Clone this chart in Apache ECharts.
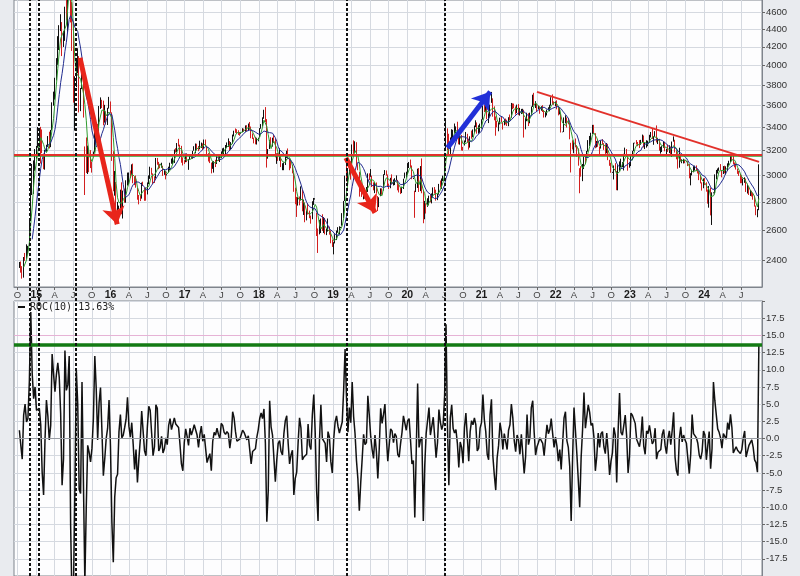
<!DOCTYPE html>
<html><head><meta charset="utf-8">
<script src="https://cdn.jsdelivr.net/npm/echarts@6/dist/echarts.min.js"></script>
<style>html,body{margin:0;padding:0;background:#e9ebef}#c{width:800px;height:576px}</style>
</head><body><div id="c"></div>
<script>
// ---- weekly data (Friday of each week), Shanghai-style index ----
const firstWeek = '2014-10-10';
const weeklyClose = [
2374,2341,2302,2420,2418,2478,2487,2683,2938,2938,3108,3157,
3235,3285,3376,3351,3210,3076,3203,3247,3310,3241,3373,3617,3691,3863,4034,4287,4394,4441,4205,4308,4658,4611,5023,5166,4478,4192,3687,3877,3957,4070,3664,3744,3965,3508,3232,3160,3200,3097,3092,3053,3183,3391,3412,3383,3590,3632,3630,3436,3525,3435,3578,3627,
3539,3186,2901,2916,2737,2763,2763,2860,2767,2874,2810,2955,2979,3009,2985,3078,2960,2938,2913,2827,2825,2821,2938,2927,2885,2854,2933,2988,3054,3012,2979,2976,3125,3108,3070,3067,3078,3003,3033,3005,3005,3063,3091,3104,3125,3196,3192,3262,3243,3232,3123,3110,3104,
3154,3112,3123,3159,3140,3197,3202,3253,3218,3212,3237,3269,3223,3287,3246,3173,3155,3103,3083,3091,3110,3105,3158,3123,3158,3192,3218,3222,3238,3253,3262,3208,3268,3332,3367,3365,3353,3352,3349,3349,3390,3378,3417,3371,3432,3382,3353,3317,3290,3266,3297,3307,
3391,3429,3488,3558,3462,3129,3199,3289,3254,3307,3269,3152,3169,3131,3159,3071,3082,3091,3163,3193,3141,3075,3067,3022,2889,2847,2747,2831,2829,2873,2740,2795,2669,2730,2725,2702,2682,2797,2821,2821,2606,2550,2599,2676,2599,2679,2580,2588,2605,2594,2516,2494,
2514,2554,2596,2601,2618,2618,2682,2804,2994,2969,3022,3104,3091,3247,3189,3271,3086,3078,2940,2882,2853,2899,2828,2882,3002,2979,3011,2930,2925,2945,2868,2775,2824,2898,2886,2999,3031,3006,2932,2905,2974,2938,2955,2958,2964,2891,2885,2872,2912,2968,3005,3005,
3083,3092,3075,2977,2977,2876,2917,3040,2880,3034,2887,2745,2772,2764,2796,2839,2809,2860,2895,2868,2814,2852,2931,2920,2968,2980,3153,3383,3214,3197,3310,3354,3360,3380,3404,3355,3260,3338,3219,3218,3272,3336,3278,3225,3312,3310,3378,3408,3444,3347,3395,3397,
3473,3570,3566,3607,3483,3496,3603,3697,3509,3502,3454,3405,3418,3484,3451,3427,3474,3447,3419,3490,3487,3601,3592,3590,3525,3607,3519,3525,3539,3550,3397,3458,3517,3427,3522,3581,3703,3613,3613,3568,3592,3572,3582,3547,3491,3539,3560,3564,3607,3666,3632,3618,3640,
3580,3521,3522,3361,3361,3462,3491,3451,3447,3309,3251,3212,3282,3251,3211,3087,3047,3001,3084,3146,3131,3195,3285,3316,3349,3388,3356,3228,3269,3253,3227,3276,3258,3236,3186,3262,3126,3088,3024,3024,3071,3038,2915,3070,3087,3097,3101,3156,3206,3167,3045,3089,
3158,3195,3265,3265,3263,3260,3224,3267,3328,3230,3251,3266,3273,3327,3338,3301,3323,3350,3272,3284,3213,3230,3231,3273,3198,3202,3197,3237,3168,3276,3288,3189,3132,3064,3133,3117,3117,3132,3110,3110,3088,2983,3017,3030,3038,3054,3041,3032,2969,2942,2914,2975,
2929,2882,2832,2910,2730,2866,2866,3004,3027,3046,3055,3048,3011,3069,3019,3065,3088,3105,3155,3154,3089,3087,3051,3033,2998,2967,2950,2971,2982,2891,2905,2862,2879,2855,2842,2766,2705,2736,3088
];
const weeklyLow = [
2355,2326,2290,2296,2399,2412,2439,2494,2678,2850,2858,3036,
3133,3225,3227,3095,3180,3049,3045,3192,3231,3219,3230,3375,3600,3658,3846,4006,4165,4376,4099,4198,4265,4500,4368,4991,4476,4155,3629,3373,3779,3921,3537,3549,3760,3490,2850,3019,3011,3025,3058,3022,3149,3185,3254,3327,3317,3570,3578,3420,3444,3427,3423,3573,
3533,3116,2878,2845,2638,2708,2745,2735,2710,2680,2793,2793,2921,2928,2979,3004,2939,2925,2905,2815,2781,2805,2823,2918,2807,2808,2854,2932,2973,3005,2934,2941,2975,3085,3049,3057,3061,2996,3004,2969,2999,3022,3041,3093,3086,3099,3185,3189,3236,3153,3101,3079,3091,
3105,3106,3044,3124,3131,3134,3200,3178,3204,3196,3212,3223,3205,3218,3243,3164,3111,3098,3016,3052,3022,3066,3091,3115,3107,3141,3175,3170,3155,3221,3233,3201,3211,3259,3322,3353,3345,3335,3328,3345,3360,3364,3363,3366,3369,3380,3306,3300,3262,3254,3252,3280,
3314,3390,3410,3479,3450,3062,3134,3214,3237,3234,3265,3145,3092,3116,3117,3066,3041,3041,3083,3140,3129,3041,3056,3016,2874,2782,2691,2772,2774,2809,2731,2705,2654,2667,2708,2682,2644,2675,2777,2816,2560,2449,2571,2580,2594,2580,2571,2566,2590,2569,2512,2488,
2440,2511,2533,2582,2571,2614,2630,2681,2805,2953,2935,3007,2967,3093,3174,3184,3077,3041,2838,2874,2836,2818,2822,2827,2873,2963,2989,2910,2885,2864,2864,2733,2761,2841,2851,2883,3003,2998,2910,2895,2901,2931,2922,2925,2960,2885,2869,2857,2864,2895,2977,2983,
3008,3058,3066,2970,2972,2685,2872,2903,2873,2879,2863,2647,2675,2715,2763,2774,2796,2788,2833,2860,2808,2812,2853,2906,2896,2956,2978,3200,3205,3172,3173,3293,3280,3349,3350,3340,3254,3251,3202,3200,3244,3271,3272,3209,3226,3302,3316,3354,3405,3346,3346,3354,
3391,3471,3541,3541,3475,3440,3497,3627,3498,3465,3328,3402,3367,3428,3446,3382,3420,3428,3414,3412,3467,3488,3568,3576,3518,3531,3513,3508,3522,3529,3312,3384,3457,3413,3438,3515,3588,3602,3578,3550,3566,3525,3553,3541,3490,3492,3509,3556,3548,3600,3617,3608,3596,
3566,3510,3519,3356,3358,3360,3437,3400,3429,3297,3023,3210,3179,3229,3150,3077,2863,2990,2955,3050,3094,3140,3192,3240,3268,3344,3351,3221,3228,3233,3156,3218,3253,3207,3173,3179,3122,3076,3021,3020,2968,3034,2886,2885,3036,3066,3066,3039,3153,3151,3037,3061,
3074,3150,3196,3262,3252,3238,3222,3250,3274,3228,3214,3226,3238,3272,3313,3300,3250,3318,3270,3256,3200,3176,3189,3225,3195,3171,3190,3180,3164,3149,3277,3185,3129,3053,3061,3112,3097,3095,3097,3106,3074,2977,2923,3000,3024,3038,3034,3015,2963,2938,2883,2901,
2925,2875,2786,2757,2702,2635,2862,2855,2969,3015,3036,3041,2985,3011,3016,3007,3036,3077,3106,3114,3088,3064,3046,3012,2996,2939,2940,2922,2942,2873,2861,2850,2843,2839,2815,2765,2703,2689,2739
];
const weeklyHigh = [
2392,2395,2366,2423,2449,2505,2495,2683,2938,3091,3120,3214,
3240,3405,3395,3406,3383,3170,3207,3250,3325,3363,3379,3632,3735,3873,4077,4318,4444,4573,4480,4377,4664,4986,5051,5178,5048,4721,4481,3888,4055,4184,4099,3770,4006,4001,3236,3313,3243,3211,3205,3110,3193,3395,3421,3432,3597,3679,3656,3648,3608,3547,3580,3684,
3640,3538,3196,3035,2948,2799,2772,2890,2946,2883,2898,2962,3022,3023,3039,3088,3094,2990,2999,2903,2850,2848,2944,2951,2903,2907,2945,3000,3069,3060,3016,2993,3140,3140,3108,3091,3101,3077,3050,3035,3010,3069,3101,3135,3145,3210,3221,3265,3301,3251,3241,3145,3122,
3171,3177,3130,3161,3162,3199,3238,3261,3259,3240,3285,3269,3262,3295,3295,3243,3180,3157,3102,3110,3114,3125,3160,3158,3166,3194,3220,3225,3248,3270,3305,3282,3273,3338,3372,3392,3385,3376,3360,3352,3394,3390,3419,3421,3436,3450,3409,3348,3311,3318,3310,3311,
3395,3431,3492,3562,3587,3476,3214,3292,3315,3311,3333,3302,3177,3181,3220,3170,3097,3103,3174,3200,3219,3137,3130,3083,3020,2905,2836,2834,2839,2915,2891,2816,2795,2733,2788,2736,2701,2804,2828,2826,2722,2611,2670,2680,2710,2690,2684,2610,2680,2624,2598,2536,
2519,2572,2597,2620,2626,2622,2718,2806,2998,3129,3034,3110,3113,3253,3288,3280,3272,3089,3028,2959,2914,2910,2901,2910,3016,3016,3050,2998,2946,2947,2945,2842,2833,2900,2900,3009,3042,3039,3007,2936,2981,3008,2968,2978,3000,2965,2930,2903,2913,2974,3022,3029,
3098,3107,3127,3079,2982,2882,2936,3053,3058,3074,3136,2888,2806,2789,2826,2845,2855,2862,2907,2910,2890,2858,2934,2960,2976,2998,3153,3458,3393,3345,3313,3385,3380,3436,3410,3452,3369,3345,3335,3232,3287,3361,3345,3303,3323,3373,3383,3418,3465,3446,3420,3435,
3474,3599,3609,3620,3626,3529,3610,3732,3670,3594,3500,3460,3448,3489,3497,3441,3477,3481,3470,3493,3518,3626,3622,3620,3593,3610,3615,3580,3570,3571,3562,3484,3534,3530,3535,3593,3705,3723,3643,3618,3600,3593,3595,3605,3550,3541,3563,3585,3609,3681,3708,3641,3640,
3651,3594,3583,3525,3364,3491,3511,3491,3486,3443,3267,3289,3285,3304,3243,3219,3057,3073,3091,3153,3160,3198,3290,3326,3354,3424,3424,3350,3283,3295,3236,3285,3298,3264,3255,3265,3258,3125,3101,3028,3079,3097,3035,3081,3112,3134,3106,3174,3226,3214,3170,3097,
3160,3199,3267,3268,3290,3274,3290,3292,3338,3330,3271,3289,3285,3336,3361,3395,3324,3368,3419,3310,3301,3233,3239,3280,3275,3216,3251,3246,3236,3278,3322,3293,3202,3170,3225,3163,3129,3133,3126,3112,3113,3090,3018,3044,3073,3078,3079,3054,3033,3003,2946,2976,
2979,2946,2891,2918,2906,2870,2870,3008,3043,3055,3063,3090,3040,3074,3077,3072,3096,3117,3160,3158,3174,3103,3096,3054,3035,3012,3001,2975,2985,2975,2935,2915,2888,2882,2867,2845,2772,2747,3088
];
const roc10 = [
1.2,-1.0,-3.0,3.4,5.0,2.4,2.9,8.3,18.4,9.5,5.8,7.5,
4.1,4.1,4.4,2.0,-4.9,-8.2,-0.2,5.6,3.3,-0.2,1.9,12.3,9.4,6.8,9.3,11.0,8.9,3.6,-6.8,-3.0,12.8,7.0,7.8,12.0,-12.5,-24.0,-22.0,-7.5,10.0,5.0,-7.4,-8.0,8.2,-6.3,-21.0,-9.9,-1.0,-2.0,-3.4,-1.4,2.9,12.0,7.2,-0.2,5.2,7.4,1.1,-5.4,-2.9,0.0,1.5,5.6,
-1.1,-12.2,-18.0,-8.5,-5.7,-5.2,1.0,3.5,0.1,0.5,1.6,2.8,6.0,1.8,0.2,2.3,-0.8,-4.5,-1.6,-6.4,-3.0,-0.2,4.0,3.8,-1.8,-2.5,1.7,4.7,4.1,0.8,-2.5,-1.2,4.9,4.4,-1.8,-1.3,0.3,-2.1,-1.5,0.1,-0.9,1.9,2.9,1.3,1.1,3.0,2.1,2.1,1.6,-0.9,-3.7,-4.7,-0.6,
1.4,0.3,-1.0,1.5,0.5,1.2,2.0,1.8,0.5,-1.3,0.6,1.8,-0.4,0.6,0.7,-3.5,-2.8,-2.2,-4.7,-0.4,0.9,0.5,1.5,0.6,0.0,2.2,1.9,0.9,0.6,1.0,0.7,-1.4,0.2,3.9,3.0,1.0,-0.4,-0.4,-0.1,-0.1,1.2,0.9,0.8,-0.2,0.4,0.3,-3.7,-1.9,-1.9,-1.5,0.2,1.3,
2.9,3.7,2.9,4.3,-0.7,-12.1,-7.6,5.5,1.7,0.5,0.5,-6.3,-3.1,-0.7,-0.3,-1.9,-2.4,0.7,2.6,3.3,-0.7,-3.7,-2.4,-1.7,-8.2,-5.8,-4.9,-0.6,3.0,1.5,-3.1,-2.7,-2.6,-2.3,2.1,-1.0,-1.6,3.5,6.4,0.9,-7.6,-12.0,-0.3,4.9,0.0,0.1,-0.7,-3.4,1.0,0.2,-3.4,-5.0,
-0.1,2.4,3.3,1.8,0.8,0.7,2.4,7.1,13.0,5.9,0.9,4.5,2.3,8.2,3.2,0.7,-3.2,-5.9,-10.5,-6.4,-3.0,0.6,-0.9,-0.6,6.2,3.4,0.3,-1.6,-2.9,0.5,-1.9,-5.8,-1.5,4.4,2.2,3.5,5.0,0.2,-3.3,-3.4,1.4,1.1,-0.6,0.7,0.3,-2.3,-2.7,-0.7,0.9,3.3,3.2,1.2,
2.6,2.9,-0.3,-3.7,-3.2,-11.5,-2.0,8.0,-1.3,-0.2,0.2,-12.0,-4.0,0.7,0.9,4.5,0.5,0.7,3.1,0.3,-2.8,-0.6,4.2,2.4,1.3,2.1,6.2,16.6,1.9,-6.8,3.0,4.9,1.5,0.8,1.3,-0.7,-4.2,-0.5,-1.3,-3.6,1.6,3.7,0.2,-3.3,1.0,2.6,2.0,3.0,2.0,-1.8,-1.4,1.5,
2.3,6.4,2.7,1.0,-2.3,-3.1,3.4,5.7,-2.6,-5.3,-7.5,-2.8,-1.0,2.3,1.0,-1.6,0.7,0.6,-1.6,1.2,2.0,5.0,3.0,-0.3,-1.9,0.5,-0.2,-2.3,0.6,0.7,-5.1,-2.6,3.5,-0.9,0.1,4.5,5.5,0.9,-2.4,-1.2,-0.6,0.1,-0.3,-0.7,-2.5,-0.2,2.0,0.7,1.3,2.9,0.7,-1.3,0.2,
-1.1,-3.3,-1.6,-4.5,-4.6,3.0,3.9,-0.3,-1.3,-4.1,-12.0,-2.9,4.5,1.2,-2.2,-6.0,-10.0,-2.8,1.2,6.7,1.5,1.6,4.9,3.8,1.9,2.2,0.2,-4.7,-2.6,0.8,-1.3,0.7,1.0,-1.2,-2.2,0.8,-1.9,-5.3,-3.3,-2.1,1.6,0.5,-6.4,1.1,6.6,0.9,0.5,1.9,3.4,0.3,-5.0,-2.5,
3.7,3.4,3.4,2.2,-0.1,-0.2,-1.2,0.2,3.2,-1.1,-2.3,1.1,0.7,1.9,2.0,-0.8,-0.4,1.5,-3.0,-2.0,-1.8,-1.6,0.6,1.3,-1.0,-2.2,0.0,1.1,-0.9,1.2,3.8,-2.7,-4.7,-5.4,0.0,1.7,-0.5,0.5,-0.2,-0.7,-0.7,-5.1,-2.3,3.5,0.7,0.8,0.1,-0.7,-2.4,-3.0,-1.9,1.1,
0.5,-3.1,-3.3,1.0,-4.4,-1.5,8.2,5.5,5.6,1.4,0.9,0.1,-1.4,0.7,0.3,-0.1,2.3,1.3,3.5,1.6,-2.1,-2.1,-1.2,-1.7,-1.7,-2.2,-1.6,0.1,1.1,-2.7,-2.6,-1.0,-0.9,-0.2,-1.3,-3.1,-3.5,-4.9,13.63
];
// ---- tick labels / reference levels / annotations ----
const priceTicks = [2400,2600,2800,3000,3200,3400,3600,3800,4000,4200,4400,4600];
const quarterTicks = ['2014-10','2015-01','2015-04','2015-07','2015-10','2016-01','2016-04','2016-07','2016-10',
 '2017-01','2017-04','2017-07','2017-10','2018-01','2018-04','2018-07','2018-10','2019-01','2019-04','2019-07','2019-10',
 '2020-01','2020-04','2020-07','2020-10','2021-01','2021-04','2021-07','2021-10','2022-01','2022-04','2022-07','2022-10',
 '2023-01','2023-04','2023-07','2023-10','2024-01','2024-04','2024-07'];
const resistanceLevel = 3180;
const supportLevel = 3175;
const rocUpperBand = 15;
const signalDates = ['2014-11-28','2015-01-16','2015-07-15','2019-03-08','2020-07-04'];
const redArrows = [[['2015-08-04',4080],['2016-02-03',2640]], [['2019-03-05',3141],['2019-07-26',2721]]];
const blueArrow = [['2020-07-17',3224],['2021-02-13',3733]];
const trendLine = [['2021-10-01',3733],['2024-09-28',3108]];

// ---- helpers ----
function yearFrac(d){
  if (typeof d === 'string') d = new Date((d.length===7? d+'-01': d)+'T00:00:00Z');
  const y = d.getUTCFullYear(); const s = Date.UTC(y,0,1), e = Date.UTC(y+1,0,1);
  return y + (d.getTime()-s)/(e-s);
}
const n = Math.min(weeklyClose.length, weeklyLow.length, weeklyHigh.length, roc10.length);
const t0 = Date.parse(firstWeek+'T00:00:00Z');
const weekX = [];
for (let i=0;i<n;i++) weekX.push(yearFrac(new Date(t0 + i*7*864e5)));
const L = Math.log;
const bars = [];
for (let i=0;i<n;i++) bars.push([weekX[i], L(weeklyClose[i]), L(weeklyClose[i]), L(weeklyLow[i]), L(weeklyHigh[i])]);
function sma(p){ const out=[]; for(let i=p-1;i<n;i++){ let s=0; for(let k=i-p+1;k<=i;k++) s+=weeklyClose[k]; out.push([weekX[i], L(s/p)]);} return out; }
const rocData = []; for (let i=0;i<n;i++) rocData.push([weekX[i], roc10[i]]);
const qVals = quarterTicks.map(yearFrac);
const pVals = priceTicks.map(L);
const pt = a => [yearFrac(a[0]), L(a[1])];
const rocLast = roc10[n-1];

const X_MIN = 2014.70, X_MAX = 2024.78;
const gridColor = '#d5d9e0', frameColor = '#7f848c';
const font = 'Liberation Sans, Arial, sans-serif';

const xLabelFmt = v => {
  const y = Math.floor(v + 1e-6), f = v - y;
  if (f < 0.05) return '{y|' + String(y).slice(2) + '}';
  return '{m|' + (f < 0.35 ? 'A' : f < 0.6 ? 'J' : 'O') + '}';
};
function arrow(a, color){
  const st = { lineStyle: { color: color, width: 5, type: 'solid' }, itemStyle: { color: color } };
  return [ Object.assign({ coord: pt(a[0]), symbol: 'none' }, st),
           Object.assign({ coord: pt(a[1]), symbol: 'arrow', symbolSize: 17 }, st) ];
}

const option = {
  animation: false,
  backgroundColor: '#e9ebef',
  textStyle: { fontFamily: font },
  legend: {
    data: [{ name: 'ROC(10)', icon: 'rect' }],
    left: 18, top: 302, padding: 0, itemWidth: 7, itemHeight: 2, itemGap: 4,
    selectedMode: false,
    formatter: name => name + ' ' + rocLast.toFixed(2) + '%',
    textStyle: { fontFamily: 'DejaVu Sans Mono, monospace', fontSize: 10, color: '#222' }
  },
  grid: [
    { left: 14, right: 38, top: 0, height: 287, show: true, backgroundColor: '#fdfdfe', borderColor: frameColor, borderWidth: 1 },
    { left: 14, right: 38, top: 301, height: 282, show: true, backgroundColor: '#fdfdfe', borderColor: frameColor, borderWidth: 1 },
    { left: 14, right: 38, top: 0, height: 576, show: false }
  ],
  xAxis: [
    { type: 'value', gridIndex: 0, min: X_MIN, max: X_MAX, position: 'bottom',
      axisLine: { show: true, lineStyle: { color: frameColor } },
      axisTick: { show: true, customValues: qVals, length: 3, lineStyle: { color: '#666' } },
      axisLabel: { customValues: qVals, margin: 3, formatter: xLabelFmt,
        rich: { y: { fontWeight: 'bold', fontSize: 10.5, color: '#1a1a1a' }, m: { fontSize: 9.5, color: '#444' } } },
      splitLine: { show: true, lineStyle: { color: gridColor, width: 1 } } },
    { type: 'value', gridIndex: 1, min: X_MIN, max: X_MAX,
      axisLine: { show: false }, axisLabel: { show: false },
      axisTick: { show: false, customValues: qVals },
      splitLine: { show: true, lineStyle: { color: gridColor, width: 1 } } },
    { type: 'value', gridIndex: 2, min: X_MIN, max: X_MAX, show: false }
  ],
  yAxis: [
    { type: 'value', gridIndex: 0, min: 7.7144, max: 8.4652, position: 'right',
      axisLine: { show: true, lineStyle: { color: frameColor } },
      axisTick: { show: true, customValues: pVals, length: 3, lineStyle: { color: '#666' } },
      axisLabel: { customValues: pVals, margin: 4, fontSize: 9.5, color: '#333',
        formatter: v => String(Math.round(Math.exp(v) / 100) * 100) },
      splitLine: { show: true, lineStyle: { color: gridColor, width: 1 } } },
    { type: 'value', gridIndex: 1, min: -20, max: 20, interval: 2.5, position: 'right',
      axisLine: { show: true, lineStyle: { color: frameColor } },
      axisTick: { show: true, length: 3, lineStyle: { color: '#666' } },
      axisLabel: { margin: 4, fontSize: 9.5, color: '#333',
        formatter: v => Math.abs(v) > 19.9 ? '' : v.toFixed(1) },
      splitLine: { show: true, lineStyle: { color: gridColor, width: 1 } } },
    { type: 'value', gridIndex: 2, min: 0, max: 1, show: false }
  ],
  series: [
    { name: 'Price', type: 'candlestick', xAxisIndex: 0, yAxisIndex: 0, z: 2,
      encode: { x: 0, y: [1, 2, 3, 4] }, barWidth: 1.3, data: bars,
      itemStyle: { color: '#111', color0: '#d21f1f', borderColor: '#111', borderColor0: '#d21f1f', borderWidth: 1 } },
    { name: 'MA20', type: 'line', xAxisIndex: 0, yAxisIndex: 0, z: 3, data: sma(4), symbol: 'none',
      lineStyle: { color: '#2f9a2f', width: 1 } },
    { name: 'MA50', type: 'line', xAxisIndex: 0, yAxisIndex: 0, z: 3, data: sma(10), symbol: 'none',
      lineStyle: { color: '#202b8f', width: 1 } },
    { name: 'levels', type: 'line', xAxisIndex: 0, yAxisIndex: 0, z: 4, data: [], silent: true,
      markLine: { silent: true, symbol: 'none', label: { show: false }, animation: false,
        data: [
          { yAxis: L(supportLevel), lineStyle: { color: '#2fa12f', width: 2.5, type: 'solid' } },
          { yAxis: L(resistanceLevel), lineStyle: { color: '#e2312b', width: 2, type: 'solid' } },
          [ { coord: pt(trendLine[0]) }, { coord: pt(trendLine[1]) } ]
        ],
        lineStyle: { color: '#e2312b', width: 2, type: 'solid' } } },
    { name: 'arrows', type: 'line', xAxisIndex: 0, yAxisIndex: 0, z: 5, data: [], silent: true,
      markLine: { silent: true, symbol: ['none', 'arrow'], symbolSize: 17, label: { show: false }, animation: false,
        data: [ arrow(redArrows[0], '#e8251b'), arrow(redArrows[1], '#e8251b'), arrow(blueArrow, '#2230d8') ],
        lineStyle: { width: 5, type: 'solid' } } },
    { name: 'ROC(10)', type: 'line', xAxisIndex: 1, yAxisIndex: 1, z: 3, data: rocData, symbol: 'none',
      color: '#111', lineStyle: { color: '#111', width: 1.5 },
      markLine: { silent: true, symbol: 'none', label: { show: false }, animation: false,
        data: [
          { yAxis: 0, lineStyle: { color: '#9a9ea5', width: 1, type: 'solid' } },
          { yAxis: rocUpperBand, lineStyle: { color: '#e6b3d6', width: 1, type: 'solid' } },
          { yAxis: rocLast, lineStyle: { color: '#137a13', width: 3.5, type: 'solid' } }
        ] } },
    { name: 'signals', type: 'line', xAxisIndex: 2, yAxisIndex: 2, z: 6, data: [], silent: true,
      markLine: { silent: true, symbol: 'none', label: { show: false }, animation: false,
        data: signalDates.map(d => ({ xAxis: yearFrac(d) })),
        lineStyle: { color: '#111', width: 2, type: [3, 2] } } }
  ]
};
const chart = echarts.init(document.getElementById('c'), null, { renderer: 'canvas', width: 800, height: 576 });
chart.setOption(option);
if (weeklyClose.length !== weeklyLow.length || weeklyClose.length !== weeklyHigh.length || weeklyClose.length !== roc10.length) {
  setTimeout(() => { throw new Error('length mismatch ' + [weeklyClose.length, weeklyLow.length, weeklyHigh.length, roc10.length].join(',')); }, 0);
}
</script>
</body></html>
